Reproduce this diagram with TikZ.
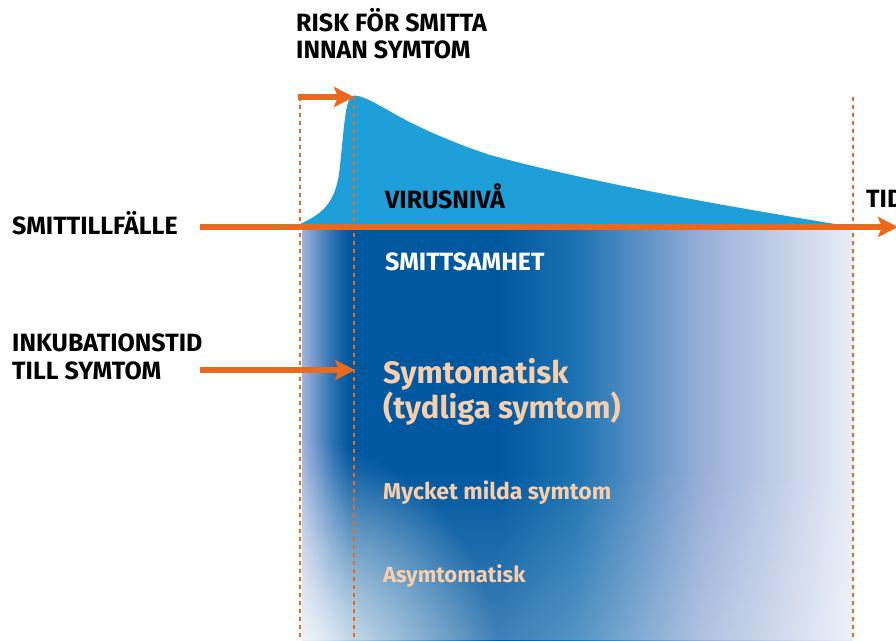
\documentclass[tikz,border=0pt]{standalone}
\usepackage{fontspec}
\setmainfont{Fira Sans}
\usetikzlibrary{arrows.meta, fadings}

\definecolor{virusorange}{HTML}{E96A1E}
\definecolor{virusblue}{HTML}{1F9FD9}
\definecolor{edgeblue}{HTML}{A0B4DC}
\definecolor{risingblue}{HTML}{2A70B3}
\definecolor{deepblue}{HTML}{0058A0}
\definecolor{cyanblue}{HTML}{1B72B1}
\definecolor{hazeblue}{HTML}{98AED8}
\definecolor{paleblue}{HTML}{E9EDF7}
\definecolor{peach}{HTML}{F9CEAB}

\pgfdeclarehorizontalshading{contagion}{100bp}{color(0bp)=(edgeblue); color(25bp)=(edgeblue);
  color(27.8bp)=(risingblue); color(29.2bp)=(deepblue); color(43bp)=(deepblue);
  color(49.8bp)=(cyanblue); color(61.2bp)=(hazeblue); color(75bp)=(paleblue); color(100bp)=(paleblue)}
\tikzfading[name=cornerfade, inner color=transparent!0, outer color=transparent!100]
\tikzfading[name=bottomfade, top color=transparent!100, bottom color=transparent!75]

\begin{document}
\begin{tikzpicture}[x=1pt, y=-1pt,
    headline/.style={anchor=base west, align=left, inner sep=0pt, font=\bfseries\fontsize{25}{27}\selectfont},
    peachline/.style={anchor=base west, align=left, inner sep=0pt, text=peach},
    flow/.style={virusorange, line width=6pt, -{Stealth[length=20pt, width=20pt, inset=4pt]}},
    guide/.style={virusorange, line width=2.5pt, dash pattern=on 4pt off 4pt}]
  \useasboundingbox (0,0) rectangle (896,640);

  % Infectiousness gradient
  \shade[shading=contagion] (302,229) rectangle (853,640);
  \begin{scope}
    \clip (302,229) rectangle (853,640);
    \fill[white, path fading=bottomfade] (302,470) rectangle (853,640);
    \fill[white, path fading=cornerfade] (302,690) ellipse (200 and 250);
  \end{scope}

  % Virus level curve
  \fill[virusblue] (300,224) .. controls (325,213) and (337,200) .. (340,165)
    .. controls (344,130) and (345,100) .. (352,96)
    .. controls (360,93) and (380,106) .. (400,117)
    .. controls (430,133) and (460,145) .. (490,155)
    .. controls (600,185) and (750,210) .. (853,227) -- (300,227) -- cycle;

  % Guide lines
  \draw[guide] (300,97) -- (300,640);
  \draw[guide] (354,97) -- (354,640);
  \draw[guide] (853,97) -- (853,640);

  % Arrows
  \coordinate (axisstart) at (200,227);
  \coordinate (axisend) at (898,227);
  \coordinate (exposure) at (298,97);
  \coordinate (peak) at (354,97);
  \coordinate (incstart) at (200,370);
  \coordinate (onset) at (355,370);
  \draw[flow] (axisstart) -- (axisend);
  \draw[flow] (exposure) -- (peak);
  \draw[flow] (incstart) -- (onset);

  % Labels (base anchor sits on the last line)
  \node[headline] (risk) at (296,58) {RISK FÖR SMITTA\\INNAN SYMTOM};
  \node[headline] (smitt) at (12,234) {SMITTILLFÄLLE};
  \node[headline, font=\bfseries\fontsize{25}{28}\selectfont] (inkub) at (12,379) {INKUBATIONSTID\\TILL SYMTOM};
  \node[headline] (virus) at (385,208) {VIRUSNIVÅ};
  \node[headline] (tid) at (866,207) {TID};
  \node[headline, text=white] (samhet) at (385,270) {SMITTSAMHET};
  \node[peachline, font=\bfseries\fontsize{31}{35}\selectfont] (sympt) at (383,418) {Symtomatisk\\(tydliga symtom)};
  \node[peachline, font=\bfseries\fontsize{23}{26}\selectfont] (mild) at (383,499) {Mycket milda symtom};
  \node[peachline, font=\bfseries\fontsize{22}{26}\selectfont] (asympt) at (383,582) {Asymtomatisk};
\end{tikzpicture}
\end{document}
